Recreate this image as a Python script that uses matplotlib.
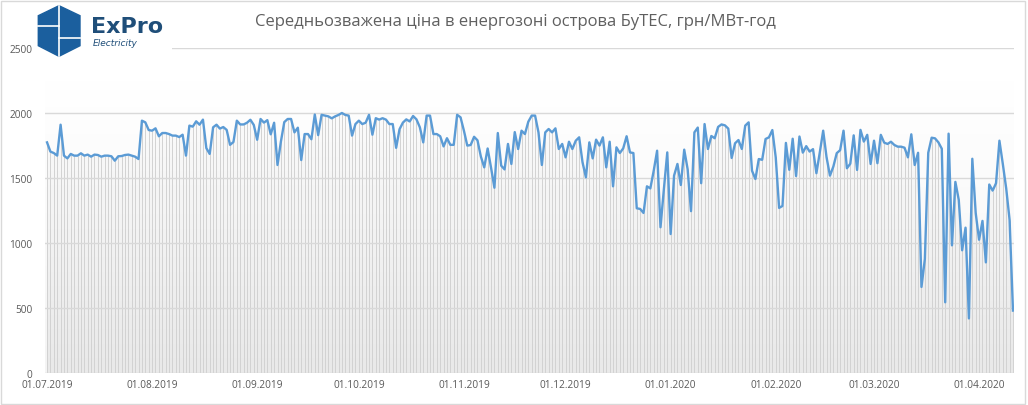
import numpy as np
import pandas as pd
import matplotlib
matplotlib.use('Agg')
import matplotlib.pyplot as plt
from matplotlib.patches import Polygon, Rectangle
from matplotlib.lines import Line2D
from matplotlib.colors import LinearSegmentedColormap

# daily weighted average price, UAH/MWh, by month
jul = [1774, 1703, 1692, 1672, 1910, 1672, 1651, 1685, 1672, 1672,
       1690, 1672, 1680, 1664, 1680, 1677, 1664, 1672, 1672, 1667,
       1633, 1667, 1669, 1677, 1680, 1672, 1664, 1646, 1941, 1928, 1869]
aug = [1864, 1882, 1821, 1846, 1846, 1838, 1826, 1826, 1815, 1833,
       1672, 1903, 1895, 1936, 1910, 1949, 1730, 1685, 1890, 1910,
       1880, 1892, 1870, 1755, 1777, 1941, 1912, 1912, 1925, 1948, 1908]
sep = [1794, 1954, 1926, 1945, 1836, 1925, 1600, 1780, 1930, 1954,
       1954, 1851, 1887, 1638, 1838, 1838, 1798, 1988, 1830, 1986,
       1980, 1974, 1959, 1974, 1985, 2000, 1985, 1980, 1826, 1915]
oct_ = [1941, 1915, 1925, 1986, 1833, 1960, 1949, 1960, 1949, 1915,
        1915, 1732, 1875, 1926, 1951, 1935, 1977, 1951, 1890, 1774,
        1980, 1980, 1838, 1838, 1821, 1743, 1806, 1755, 1755, 1986, 1967]
nov = [1864, 1749, 1754, 1817, 1790, 1665, 1582, 1727, 1580, 1425,
       1846, 1595, 1566, 1762, 1608, 1853, 1723, 1864, 1838, 1933,
       1980, 1980, 1851, 1600, 1851, 1877, 1851, 1882, 1723, 1762]
dec = [1659, 1779, 1723, 1787, 1813, 1620, 1505, 1774, 1651, 1795,
       1749, 1813, 1582, 1779, 1436, 1736, 1692, 1728, 1821, 1697,
       1692, 1267, 1262, 1231, 1436, 1420, 1556, 1710, 1121, 1415, 1697]
jan = [1069, 1518, 1608, 1446, 1718, 1569, 1245, 1851, 1888, 1460,
       1915, 1723, 1823, 1806, 1893, 1912, 1905, 1880, 1654, 1767,
       1792, 1723, 1903, 1928, 1556, 1492, 1646, 1640, 1800, 1813, 1869]
feb = [1659, 1270, 1285, 1770, 1563, 1802, 1515, 1819, 1695, 1745,
       1703, 1722, 1537, 1697, 1864, 1659, 1518, 1588, 1691, 1714,
       1864, 1575, 1610, 1828, 1562, 1870, 1780, 1832, 1608]
mar = [1787, 1614, 1832, 1772, 1762, 1779, 1754, 1741, 1741, 1733,
       1659, 1836, 1600, 1694, 662, 877, 1694, 1810, 1805, 1774,
       1725, 544, 1841, 982, 1470, 1332, 944, 1118, 420, 1648, 1230]
apr = [1025, 1170, 851, 1450, 1403, 1460, 1787, 1608, 1420, 1178, 480]

price = np.array(jul + aug + sep + oct_ + nov + dec + jan + feb + mar + apr)
dates = pd.date_range('2019-07-01', periods=len(price), freq='D')
x = np.arange(len(price))

month_starts = pd.date_range(dates[0], dates[-1], freq='MS')
tick_pos = [(m - dates[0]).days for m in month_starts]
tick_lbl = [m.strftime('%d.%m.%Y') for m in month_starts]

title = 'Середньозважена ціна в енергозоні острова БуТЕС, грн/МВт-год'

W, H = 1028, 406
fx = lambda px: px / W
fy = lambda py: 1 - py / H

fig = plt.figure(figsize=(W / 100, H / 100), dpi=100)
ax = fig.add_axes([fx(45), fy(374), fx(1014) - fx(45), fy(49) - fy(374)])

# plot area gradient + gradient under the curve
grad = np.linspace(0, 1, 256).reshape(-1, 1)
bg = LinearSegmentedColormap.from_list('bg', ['#f4f4f4', '#ffffff'])
ax.imshow(grad, extent=[-0.6, len(price) - 0.7, 0, 2250], origin='lower',
          cmap=bg, aspect='auto', zorder=0)
fg = LinearSegmentedColormap.from_list('fg', ['#e9e9e9', '#fbfbfb'])
im = ax.imshow(grad, extent=[-0.6, len(price) - 0.7, 0, 2000], origin='lower',
               cmap=fg, aspect='auto', zorder=0.5)
area = ax.fill_between(x, price, 0, color='none', lw=0)
im.set_clip_path(area.get_paths()[0], transform=ax.transData)

ax.vlines(x, 0, price, color='#d2d2d2', lw=0.7, zorder=1)
for v in range(0, 2501, 500):
    ax.axhline(v, color='#d9d9d9', lw=1, zorder=2)
ax.plot(x, price, color='#5b9bd5', lw=1.7, zorder=4, solid_joinstyle='round')

ax.set_xlim(-0.6, len(price) - 0.7)
ax.set_ylim(0, 2500)
ax.set_yticks(range(0, 2501, 500))
ax.set_xticks(tick_pos)
ax.set_xticklabels(tick_lbl)
ax.tick_params(length=0, labelsize=7.3, labelcolor='#595959')
ax.tick_params(axis='y', pad=9)
ax.tick_params(axis='x', pad=4)
for lab in ax.get_xticklabels() + ax.get_yticklabels():
    lab.set_fontfamily('Open Sans')
for s in ax.spines.values():
    s.set_visible(False)

fig.text(0.501, fy(22), title, ha='center', va='center', fontsize=12,
         color='#5f5f5f', family='Open Sans')

# logo
fig.add_artist(Rectangle((fx(36), fy(52)), fx(172) - fx(36), fy(0) - fy(52),
                         transform=fig.transFigure, color='white', lw=0, zorder=5))
hexa = [(59, 6.7), (80, 16.7), (80, 46.7), (59, 57.3), (38.3, 46.7), (38.3, 16.7)]
fig.add_artist(Polygon([(fx(a), fy(b)) for a, b in hexa], closed=True,
                       transform=fig.transFigure, color='#1b5f9e', zorder=6))
for xs, ys in [([59, 59], [6.7, 57.3]), ([38.3, 59], [26.7, 26.7]), ([59, 80], [39.3, 39.3])]:
    fig.add_artist(Line2D([fx(v) for v in xs], [fy(v) for v in ys],
                          transform=fig.transFigure, color='white', lw=1.2, zorder=7))
fig.text(fx(91), fy(27), 'ExPro', ha='left', va='center', fontsize=16,
         fontweight='bold', color='#1f4e79', zorder=7)
fig.text(fx(93), fy(44), 'Electricity', ha='left', va='center', fontsize=6.5,
         style='italic', color='#1f4e79', zorder=7)

fig.add_artist(Rectangle((fx(1), fy(405)), fx(1025) - fx(1), fy(2) - fy(405),
                         transform=fig.transFigure, fill=False, edgecolor='#d9d9d9',
                         lw=1, zorder=8))

fig.savefig('out.png', dpi=100)
